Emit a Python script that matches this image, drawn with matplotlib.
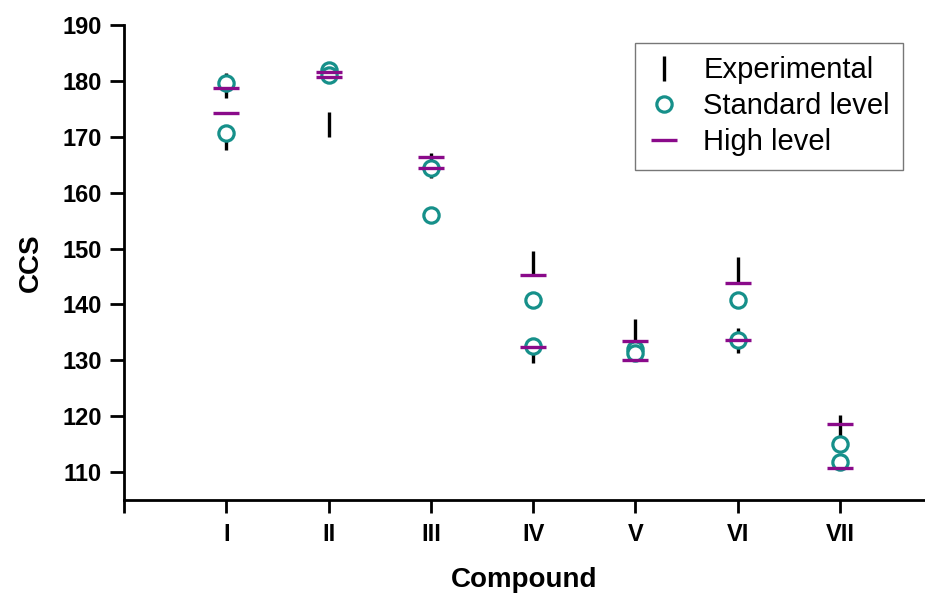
import matplotlib
matplotlib.use("Agg")
import matplotlib.pyplot as plt

plt.rcParams["font.family"] = ["Liberation Sans", "DejaVu Sans"]

# data
compounds = ["I", "II", "III", "IV", "V", "VI", "VII"]

exp_x = [1, 1, 2, 3, 4, 4, 5, 6, 6, 7]
exp_y = [179.2, 169.9, 172.2, 165.0, 147.5, 131.8, 135.2, 146.3, 133.6, 118.1]

std_x = [1, 1, 2, 2, 3, 3, 4, 4, 5, 5, 6, 6, 7, 7]
std_y = [179.7, 170.7, 182.0, 181.1, 164.4, 156.0, 140.8, 132.6,
         132.0, 131.3, 140.8, 133.6, 115.0, 111.8]

high_x = [1, 1, 2, 2, 3, 3, 4, 4, 5, 5, 6, 6, 7, 7]
high_y = [178.7, 174.3, 181.6, 180.7, 166.4, 164.4, 145.3, 132.4,
          133.5, 130.1, 143.8, 133.6, 118.6, 110.7]

teal = "#16908a"
purple = "#8a0a8a"

fig = plt.figure(figsize=(9.25, 5.94), dpi=100)
ax = fig.add_axes([0.134, 0.158, 0.866, 0.8])

ax.plot(exp_x, exp_y, linestyle="none", marker="|", color="black",
        markersize=18, markeredgewidth=2.4, label="Experimental", zorder=3)
ax.plot(std_x, std_y, linestyle="none", marker="o", markerfacecolor="white",
        markeredgecolor=teal, markersize=11, markeredgewidth=2.3,
        label="Standard level", zorder=4)
ax.plot(high_x, high_y, linestyle="none", marker="_", color=purple,
        markersize=19, markeredgewidth=2.4, label="High level", zorder=5)

ax.set_xlim(0, 7.83)
ax.set_ylim(105, 190)
ax.set_xticks(range(0, 8))
ax.set_xticklabels([""] + compounds)
ax.set_yticks(range(110, 191, 10))

for s in ["top", "right"]:
    ax.spines[s].set_visible(False)
for s in ["left", "bottom"]:
    ax.spines[s].set_linewidth(2.0)

ax.tick_params(axis="y", direction="out", length=10, width=2, pad=6,
               labelsize=17)
ax.tick_params(axis="x", direction="out", length=9.5, width=2, pad=7,
               labelsize=17)
for lab in ax.get_xticklabels() + ax.get_yticklabels():
    lab.set_fontweight("bold")

ax.set_xlabel("Compound", fontsize=20, fontweight="bold", labelpad=15)
ax.set_ylabel("CCS", fontsize=20, fontweight="bold", labelpad=13)

leg = ax.legend(loc="upper right", bbox_to_anchor=(0.9725, 0.962), fontsize=21,
                frameon=True, fancybox=False, edgecolor="#555555",
                handlelength=1.1, handletextpad=0.8, labelspacing=0.28,
                borderpad=0.45, borderaxespad=0)
leg.get_frame().set_linewidth(1.0)

fig.savefig("out.png", dpi=100)
